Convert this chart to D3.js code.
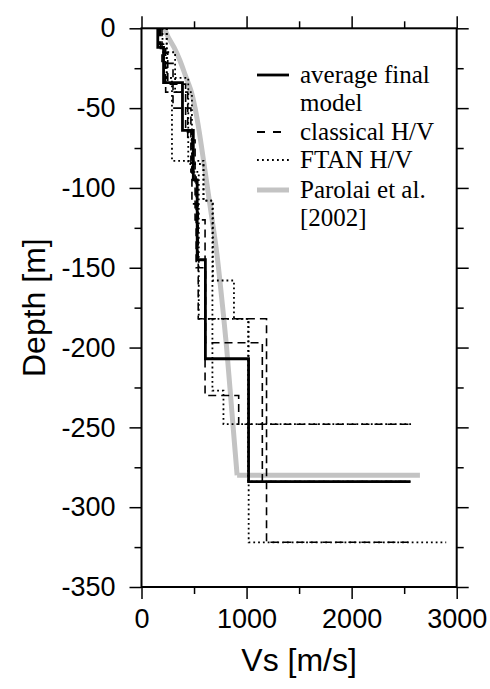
<!DOCTYPE html>
<html><head><meta charset="utf-8">
<script src="https://cdn.jsdelivr.net/npm/d3@7"></script>
<style>body{margin:0;background:#fff} svg{display:block}</style>
</head><body><svg id="c" width="490" height="689"></svg>
<script>
// ---- tick values ----
const xTicksMajor = [0, 1000, 2000, 3000];
const xTicksMinor = [500, 1500, 2500];
const yTicksMajor = [0, -50, -100, -150, -200, -250, -300, -350];
const yTicksMinor = [-25, -75, -125, -175, -225, -275, -325];

// ---- average final model (layer interfaces in m, Vs in m/s) ----
const avgDepth = [0, -12, -34, -64, -95, -145, -207, -284];
const avgVs    = [155, 210, 390, 493, 530, 608, 1019];
const avgHalf  = 2560;

// ---- classical H/V profiles ----
const cl1Depth = [0, -15, -35, -65, -110, -182, -322];
const cl1Vs    = [180, 250, 420, 480, 540, 1190];
const cl1Half  = 2540;
const cl2Depth = [0, -10, -40, -70, -120, -230, -248];
const cl2Vs    = [170, 230, 440, 510, 605, 925];
const cl2Half  = 2570;
const cl3Depth = [0, -22, -50, -90, -150, -197, -284];
const cl3Vs    = [195, 300, 470, 520, 610, 1150];
const cl3Half  = 2550;

// ---- FTAN H/V profiles ----
const ft1Depth = [0, -31, -83, -108, -227, -248];
const ft1Vs    = [240, 290, 590, 675, 780];
const ft1Half  = 2570;
const ft2Depth = [0, -31, -85, -108, -158, -182, -284];
const ft2Vs    = [240, 445, 590, 680, 880, 1015];
const ft2Half  = 2560;
const ft3Depth = [0, -15, -40, -90, -182, -322];
const ft3Vs    = [200, 320, 480, 545, 1020];
const ft3Half  = 2900;

// ---- Parolai et al. [2002] ----
const parDepth = [0, -5, -12, -20, -30, -40, -50, -65, -85, -110, -140, -170, -200, -240, -280];
const parVs    = [220, 250, 310, 365, 420, 475, 510, 550, 595, 650, 715, 765, 810, 860, 910];
const parHalf  = 2650;

// ---- legend ----
const legendLabels = [["average final", "model"], ["classical H/V"], ["FTAN H/V"], ["Parolai et al.", "[2002]"]];

const svg = d3.select("#c");
const L = 141.5, R = 456.7, T = 28.3, B = 587;
const x = d3.scaleLinear().domain([0, 3000]).range([L, R]);
const y = d3.scaleLinear().domain([0, -350]).range([T, B]);

function stepPts(dep, vs, half) {
  const p = [];
  for (let i = 0; i < vs.length; i++) { p.push([vs[i], dep[i]]); p.push([vs[i], dep[i + 1]]); }
  p.push([half, dep[dep.length - 1]]);
  return p;
}
const line = d3.line().x(d => x(d[0])).y(d => y(d[1]));
const g = svg.append("g");
g.append("clipPath").attr("id", "clip").append("rect").attr("x", L).attr("y", T).attr("width", R - L).attr("height", B - T);
const plot = g.append("g").attr("clip-path", "url(#clip)");

// Parolai gray curve
const parPts = parDepth.map((d, i) => [parVs[i], d]);
plot.append("path").attr("d", d3.line().x(d => x(d[0])).y(d => y(d[1])).curve(d3.curveCatmullRom)(parPts))
  .attr("fill", "none").attr("stroke", "#c3c3c3").attr("stroke-width", 5);
plot.append("path").attr("d", line([[parVs[parVs.length - 1], parDepth[parDepth.length - 1]], [parHalf, parDepth[parDepth.length - 1]]]))
  .attr("fill", "none").attr("stroke", "#c3c3c3").attr("stroke-width", 5);

const dotted = [[ft1Depth, ft1Vs, ft1Half], [ft2Depth, ft2Vs, ft2Half], [ft3Depth, ft3Vs, ft3Half]];
dotted.forEach(p => plot.append("path").attr("d", line(stepPts(...p))).attr("fill", "none")
  .attr("stroke", "#000").attr("stroke-width", 1.8).attr("stroke-dasharray", "1.8,3"));
const dashed = [[cl1Depth, cl1Vs, cl1Half], [cl2Depth, cl2Vs, cl2Half], [cl3Depth, cl3Vs, cl3Half]];
dashed.forEach(p => plot.append("path").attr("d", line(stepPts(...p))).attr("fill", "none")
  .attr("stroke", "#000").attr("stroke-width", 1.6).attr("stroke-dasharray", "8,5"));
plot.append("path").attr("d", line(stepPts(avgDepth, avgVs, avgHalf))).attr("fill", "none")
  .attr("stroke", "#000").attr("stroke-width", 2.8);

// axes
const font = "'Liberation Sans', Arial, Helvetica, sans-serif";
function styleAxis(sel) { sel.select(".domain").remove(); sel.selectAll(".tick line").attr("stroke", "#000").attr("stroke-width", 1.5);
  sel.selectAll("text").attr("font-family", font).attr("font-size", 27).attr("fill", "#000"); }
const fmt = d => String(d);
svg.append("g").attr("transform", `translate(0,${B})`).call(d3.axisBottom(x).tickValues(xTicksMajor).tickSize(12).tickPadding(10).tickFormat(fmt)).call(styleAxis);
svg.append("g").attr("transform", `translate(0,${B})`).call(d3.axisBottom(x).tickValues(xTicksMinor).tickSize(7).tickFormat("")).call(styleAxis);
svg.append("g").attr("transform", `translate(0,${T})`).call(d3.axisTop(x).tickValues(xTicksMajor).tickSize(12).tickFormat("")).call(styleAxis);
svg.append("g").attr("transform", `translate(0,${T})`).call(d3.axisTop(x).tickValues(xTicksMinor).tickSize(7).tickFormat("")).call(styleAxis);
svg.append("g").attr("transform", `translate(${L},0)`).call(d3.axisLeft(y).tickValues(yTicksMajor).tickSize(12).tickPadding(14).tickFormat(fmt)).call(styleAxis);
svg.append("g").attr("transform", `translate(${L},0)`).call(d3.axisLeft(y).tickValues(yTicksMinor).tickSize(7).tickFormat("")).call(styleAxis);
svg.append("g").attr("transform", `translate(${R},0)`).call(d3.axisRight(y).tickValues(yTicksMajor).tickSize(12).tickFormat("")).call(styleAxis);
svg.append("g").attr("transform", `translate(${R},0)`).call(d3.axisRight(y).tickValues(yTicksMinor).tickSize(7).tickFormat("")).call(styleAxis);

svg.append("rect").attr("x", L).attr("y", T).attr("width", R - L).attr("height", B - T)
  .attr("fill", "none").attr("stroke", "#000").attr("stroke-width", 2);

// axis titles
svg.append("text").attr("x", (L + R) / 2).attr("y", 671).attr("text-anchor", "middle")
  .attr("font-family", font).attr("font-size", 32).text("Vs [m/s]");
svg.append("text").attr("transform", `translate(45,${(T + B) / 2}) rotate(-90)`).attr("text-anchor", "middle")
  .attr("font-family", font).attr("font-size", 32).text("Depth [m]");

// legend
const serif = "'Liberation Serif', 'Times New Roman', serif";
const rowY = [75, 132, 160, 190];
const lineStyles = [
  {w: 2.8, dash: null, c: "#000"},
  {w: 1.8, dash: "8,8", c: "#000"},
  {w: 1.8, dash: "1.8,3.2", c: "#000"},
  {w: 5, dash: null, c: "#c3c3c3"}];
legendLabels.forEach((lab, i) => {
  const st = lineStyles[i];
  svg.append("line").attr("x1", 257).attr("x2", 289).attr("y1", rowY[i]).attr("y2", rowY[i])
    .attr("stroke", st.c).attr("stroke-width", st.w).attr("stroke-dasharray", st.dash);
  lab.forEach((t, j) => svg.append("text").attr("x", 300).attr("y", rowY[i] + j * 28).attr("dy", "0.32em")
    .attr("font-family", serif).attr("font-size", 25).attr("fill", "#000").text(t));
});
</script></body></html>
